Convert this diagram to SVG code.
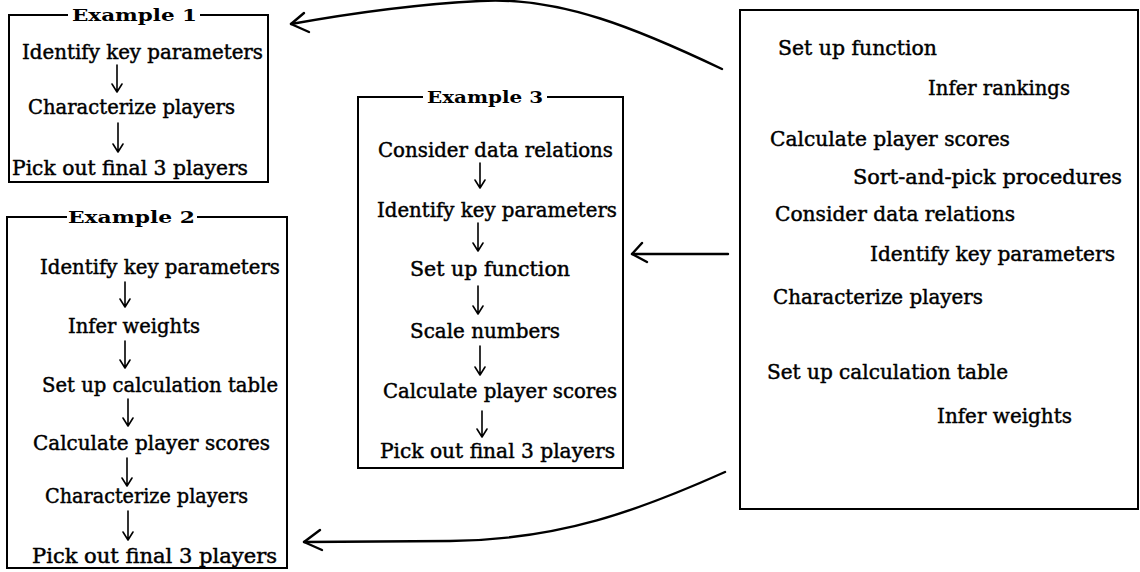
<svg xmlns="http://www.w3.org/2000/svg" width="1140" height="572" viewBox="0 0 1140 572">
<defs>
<style>
.t{font-family:"DejaVu Serif","Liberation Serif",serif;font-size:19.5px;fill:#000;stroke:#000;stroke-width:0.45}
.h{font-family:"DejaVu Serif","Liberation Serif",serif;font-size:17px;font-weight:bold;fill:#000}
.box{fill:none;stroke:#000;stroke-width:2}
.ar{fill:none;stroke:#000;stroke-width:1.6;stroke-linecap:round;stroke-linejoin:round}
.cn{fill:none;stroke:#000;stroke-width:2.4;stroke-linecap:round;stroke-linejoin:round}
</style>
</defs>
<rect width="1140" height="572" fill="#fff"/>

<g id="example1">
<path class="box" d="M68,15 H9 V182 H268 V15 H200"/>
<text class="h" x="72" y="21" textLength="125" lengthAdjust="spacingAndGlyphs">Example 1</text>
<text class="t" x="22" y="59" textLength="241" lengthAdjust="spacingAndGlyphs">Identify key parameters</text>
<path class="ar" d="M117,65 V92 M112,84 L117,92 L122,84"/>
<text class="t" x="28" y="114" textLength="207" lengthAdjust="spacingAndGlyphs">Characterize players</text>
<path class="ar" d="M118,123 V152 M113,144 L118,152 L123,144"/>
<text class="t" x="12" y="175" textLength="236" lengthAdjust="spacingAndGlyphs">Pick out final 3 players</text>
</g>

<g id="example2">
<path class="box" d="M67,217 H7 V568 H287 V217 H197"/>
<text class="h" x="68" y="223" textLength="127" lengthAdjust="spacingAndGlyphs">Example 2</text>
<text class="t" x="40" y="274" textLength="240" lengthAdjust="spacingAndGlyphs">Identify key parameters</text>
<path class="ar" d="M125,282 V307 M120,299 L125,307 L130,299"/>
<text class="t" x="68" y="333" textLength="132" lengthAdjust="spacingAndGlyphs">Infer weights</text>
<path class="ar" d="M125,341 V368 M120,360 L125,368 L130,360"/>
<text class="t" x="42" y="392" textLength="236" lengthAdjust="spacingAndGlyphs">Set up calculation table</text>
<path class="ar" d="M128,399 V426 M123,418 L128,426 L133,418"/>
<text class="t" x="33" y="450" textLength="237" lengthAdjust="spacingAndGlyphs">Calculate player scores</text>
<path class="ar" d="M127,458 V486 M122,478 L127,486 L132,478"/>
<text class="t" x="45" y="503" textLength="203" lengthAdjust="spacingAndGlyphs">Characterize players</text>
<path class="ar" d="M128,511 V540 M123,532 L128,540 L133,532"/>
<text class="t" x="32" y="563" textLength="245" lengthAdjust="spacingAndGlyphs">Pick out final 3 players</text>
</g>

<g id="example3">
<path class="box" d="M423,97 H358 V468 H623 V97 H547"/>
<text class="h" x="427" y="103" textLength="116" lengthAdjust="spacingAndGlyphs">Example 3</text>
<text class="t" x="378" y="157" textLength="235" lengthAdjust="spacingAndGlyphs">Consider data relations</text>
<path class="ar" d="M480,163 V188 M475,180 L480,188 L485,180"/>
<text class="t" x="377" y="217" textLength="240" lengthAdjust="spacingAndGlyphs">Identify key parameters</text>
<path class="ar" d="M478,223 V251 M473,243 L478,251 L483,243"/>
<text class="t" x="410" y="276" textLength="160" lengthAdjust="spacingAndGlyphs">Set up function</text>
<path class="ar" d="M478,286 V314 M473,306 L478,314 L483,306"/>
<text class="t" x="410" y="338" textLength="150" lengthAdjust="spacingAndGlyphs">Scale numbers</text>
<path class="ar" d="M480,346 V375 M475,367 L480,375 L485,367"/>
<text class="t" x="383" y="398" textLength="234" lengthAdjust="spacingAndGlyphs">Calculate player scores</text>
<path class="ar" d="M482,411 V437 M477,429 L482,437 L487,429"/>
<text class="t" x="380" y="458" textLength="235" lengthAdjust="spacingAndGlyphs">Pick out final 3 players</text>
</g>

<g id="pool">
<rect class="box" x="740" y="10" width="398" height="499"/>
<text class="t" x="778" y="55" textLength="159" lengthAdjust="spacingAndGlyphs">Set up function</text>
<text class="t" x="928" y="95" textLength="142" lengthAdjust="spacingAndGlyphs">Infer rankings</text>
<text class="t" x="770" y="146" textLength="240" lengthAdjust="spacingAndGlyphs">Calculate player scores</text>
<text class="t" x="853" y="184" textLength="269" lengthAdjust="spacingAndGlyphs">Sort-and-pick procedures</text>
<text class="t" x="775" y="221" textLength="240" lengthAdjust="spacingAndGlyphs">Consider data relations</text>
<text class="t" x="870" y="261" textLength="245" lengthAdjust="spacingAndGlyphs">Identify key parameters</text>
<text class="t" x="773" y="304" textLength="210" lengthAdjust="spacingAndGlyphs">Characterize players</text>
<text class="t" x="767" y="379" textLength="241" lengthAdjust="spacingAndGlyphs">Set up calculation table</text>
<text class="t" x="937" y="423" textLength="135" lengthAdjust="spacingAndGlyphs">Infer weights</text>
</g>

<g id="connectors">
<path class="cn" d="M722,69 C640,30 560,-4 480,1 C400,5 330,17 291,24"/>
<path class="cn" d="M304,13 L291,24 L309,32"/>
<path class="cn" d="M728,254 L632,254"/>
<path class="cn" d="M642,243 L632,254 L647,262"/>
<path class="cn" d="M725,472 C640,510 560,540 450,541 L304,542"/>
<path class="cn" d="M320,530 L304,542 L322,550"/>
</g>
</svg>
